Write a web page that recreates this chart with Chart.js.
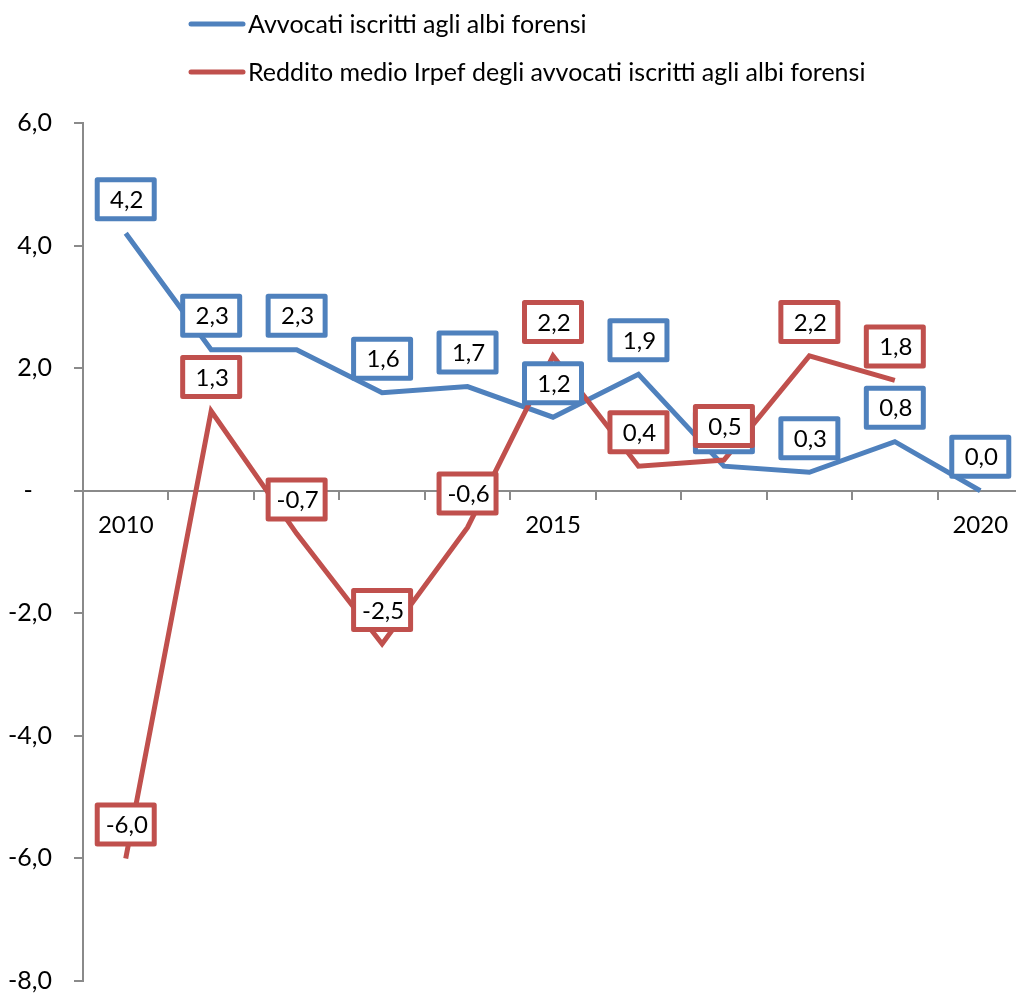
<!DOCTYPE html>
<html><head><meta charset="utf-8">
<script src="https://cdn.jsdelivr.net/npm/chart.js@4"></script>
<style>html,body{margin:0;padding:0;overflow:hidden;background:#fff}#wrap{width:1023px;height:993px;overflow:hidden}</style>
</head><body><div id="wrap"><canvas id="c" width="1023" height="1018"></canvas></div>
<script>
const years = ['2010','2011','2012','2013','2014','2015','2016','2017','2018','2019','2020'];
const shownYears = ['2010','2015','2020'];
const seriesNames = ['Avvocati iscritti agli albi forensi','Reddito medio Irpef degli avvocati iscritti agli albi forensi'];
const avvocati = [4.2, 2.3, 2.3, 1.6, 1.7, 1.2, 1.9, 0.4, 0.3, 0.8, 0.0];
const reddito = [-6.0, 1.3, -0.7, -2.5, -0.6, 2.2, 0.4, 0.5, 2.2, 1.8, null];
const yMin = -8, yMax = 6, yStep = 2;
const colors = ['#4F81BD', '#C0504D'];
const axisColor = '#8a8a8a';
const FONT = 'Lato';

function fmt(v){ return v.toFixed(1).replace('.', ','); }

const legendPlugin = {
  id: 'customLegend',
  afterDraw(chart){
    const ctx = chart.ctx;
    const rows = [24, 72];
    seriesNames.forEach((name, i) => {
      ctx.save();
      ctx.strokeStyle = colors[i];
      ctx.lineWidth = 5;
      ctx.lineCap = 'round';
      ctx.beginPath(); ctx.moveTo(191, rows[i]); ctx.lineTo(243, rows[i]); ctx.stroke();
      ctx.fillStyle = '#000';
      ctx.font = '25px ' + FONT;
      ctx.textAlign = 'left'; ctx.textBaseline = 'middle';
      ctx.fillText(name, 248, rows[i] + 1);
      ctx.restore();
    });
  }
};

const labelPlugin = {
  id: 'boxLabels',
  afterDatasetsDraw(chart){
    const ctx = chart.ctx;
    chart.data.datasets.forEach((ds, di) => {
      const meta = chart.getDatasetMeta(di);
      meta.data.forEach((pt, i) => {
        const v = ds.data[i];
        if (v === null || v === undefined) return;
        const x = pt.x, y = pt.y - 34;
        ctx.save();
        ctx.lineWidth = 5; ctx.lineJoin = 'round';
        ctx.fillStyle = '#fff'; ctx.strokeStyle = ds.borderColor;
        ctx.beginPath(); ctx.rect(x - 28.5, y - 19.5, 57, 39); ctx.fill(); ctx.stroke();
        ctx.fillStyle = '#000'; ctx.font = '24px ' + FONT;
        ctx.textAlign = 'center'; ctx.textBaseline = 'middle';
        ctx.fillText(fmt(v), x + 1, y + 1);
        ctx.restore();
      });
    });
  }
};

new Chart(document.getElementById('c'), {
  type: 'line',
  data: {
    labels: years,
    datasets: [
      { label: seriesNames[0], data: avvocati, borderColor: colors[0], backgroundColor: colors[0], borderWidth: 5, pointRadius: 0, order: 1, tension: 0 },
      { label: seriesNames[1], data: reddito, borderColor: colors[1], backgroundColor: colors[1], borderWidth: 5, pointRadius: 0, order: 0, tension: 0, spanGaps: false }
    ]
  },
  options: {
    responsive: false,
    animation: false,
    devicePixelRatio: 1,
    layout: { padding: { top: 123, bottom: 0, left: 0, right: 0 } },
    plugins: { legend: { display: false }, tooltip: { enabled: false } },
    scales: {
      x: {
        position: { y: 0 },
        offset: true,
        grid: { offset: true, drawOnChartArea: false, drawTicks: true, tickLength: 8, color: axisColor, lineWidth: 2 },
        border: { display: true, color: axisColor, width: 2 },
        ticks: {
          autoSkip: false, maxRotation: 0, padding: 12, color: '#000',
          font: { family: FONT, size: 24 },
          callback: (v, i) => shownYears.includes(years[i]) ? years[i] : ''
        }
      },
      y: {
        min: yMin, max: yMax,
        afterFit: s => { s.width = 83; },
        grid: { drawOnChartArea: false, drawTicks: true, tickLength: 9, color: axisColor, lineWidth: 2 },
        border: { display: true, color: axisColor, width: 2 },
        ticks: {
          stepSize: yStep, padding: 22, color: '#000',
          font: { family: FONT, size: 25 },
          callback: v => v === 0 ? '-   ' : fmt(v)
        }
      }
    }
  },
  plugins: [labelPlugin, legendPlugin]
});
</script>
</body></html>
